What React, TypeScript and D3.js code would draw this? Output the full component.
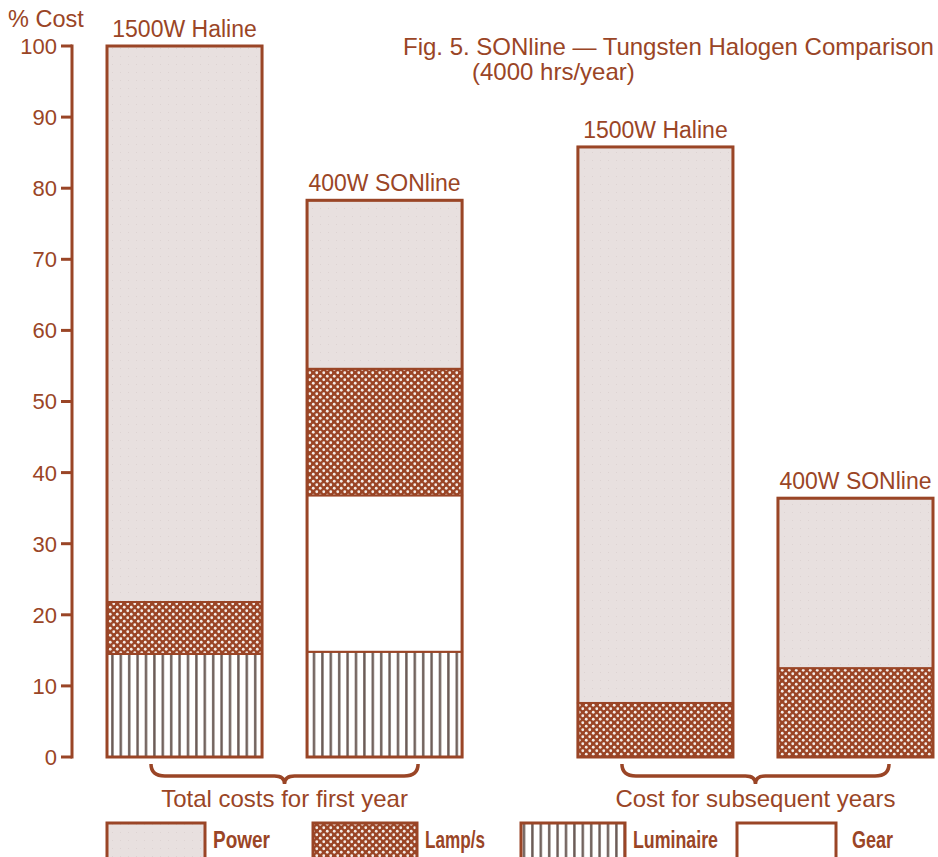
import React from 'react';
import * as d3 from 'd3';

// bars, left to right
const barLabels = ["1500W Haline", "400W SONline", "1500W Haline", "400W SONline"];
const barGroup = ["first", "first", "subsequent", "subsequent"];
const groupLabels = ["Total costs for first year", "Cost for subsequent years"];

// % cost per component (stacked bottom to top)
const luminaire = [14.5, 14.8, 0, 0];
const gear = [0, 22.0, 0, 0];
const lamps = [7.3, 17.8, 7.6, 12.5];
const power = [78.2, 23.7, 78.2, 23.9];

const yTicks = [0, 10, 20, 30, 40, 50, 60, 70, 80, 90, 100];
const legendLabels = ["Power", "Lamp/s", "Luminaire", "Gear"];

const W = 938;
const H = 857;
const BROWN = "#9a4526";
const FONT = "'Liberation Sans', Arial, Helvetica, sans-serif";

const keys = ["luminaire", "gear", "lamps", "power"] as const;
const fills: Record<string, string> = {
  luminaire: "url(#lumi)",
  gear: "#ffffff",
  lamps: "url(#lamps)",
  power: "url(#power)",
};

export default function App() {
  const rows = barLabels.map((label, i) => ({
    idx: i,
    label,
    group: barGroup[i],
    luminaire: luminaire[i],
    gear: gear[i],
    lamps: lamps[i],
    power: power[i],
  }));

  const y = d3.scaleLinear().domain([0, 100]).range([757, 46]);
  const xGroup = d3.scaleBand<string>()
    .domain(["first", "subsequent"])
    .range([107, 933])
    .paddingInner(0.246);
  const xInner = d3.scaleBand<number>()
    .domain([0, 1])
    .range([0, xGroup.bandwidth()])
    .paddingInner(0.225);

  const barX = (i: number) => xGroup(barGroup[i])! + xInner(i % 2)!;
  const bw = xInner.bandwidth();

  const series = d3.stack<any>().keys(keys as any)(rows);
  const totals = rows.map(r => r.luminaire + r.gear + r.lamps + r.power);

  // curly brace under each group
  const brace = (x0: number, x1: number, yt: number) => {
    const cx = (x0 + x1) / 2;
    const yb = yt + 12;
    const p = d3.path();
    p.moveTo(x0, yt);
    p.quadraticCurveTo(x0, yb, x0 + 14, yb);
    p.lineTo(cx - 10, yb);
    p.quadraticCurveTo(cx, yb, cx, yb + 8);
    p.quadraticCurveTo(cx, yb, cx + 10, yb);
    p.lineTo(x1 - 14, yb);
    p.quadraticCurveTo(x1, yb, x1, yt);
    return p.toString();
  };

  const legendX = [107, 313, 521, 737];
  const legendW = [98, 104, 104, 99];
  const legendTextX = [213, 425, 633, 852];
  const legendTextW = [57, 60, 85, 41];
  const legendFill = ["url(#power)", "url(#lamps)", "url(#lumi)", "#ffffff"];

  return (
    <svg width={W} height={H} style={{ position: 'absolute', left: 0, top: 0, background: '#fff' }}>
      <defs>
        <pattern id="power" width="8" height="8" patternUnits="userSpaceOnUse">
          <rect width="8" height="8" fill="#e8e0df" />
          <rect x="0" y="0" width="1" height="1" fill="#ddd3d2" />
        </pattern>
        <pattern id="lamps" width="7" height="7" patternUnits="userSpaceOnUse">
          <rect width="7" height="7" fill={BROWN} />
          <circle cx="1.75" cy="1.75" r="1.4" fill="#f4ece8" />
          <circle cx="5.25" cy="5.25" r="1.4" fill="#f4ece8" />
        </pattern>
        <pattern id="lumi" width="8.4" height="10" patternUnits="userSpaceOnUse">
          <rect width="8.4" height="10" fill="#ffffff" />
          <rect x="2" y="0" width="2.4" height="10" fill="#6a5a55" />
        </pattern>
      </defs>

      {/* y axis */}
      <text x={8} y={27} fontFamily={FONT} fontSize={23.5} fill={BROWN}>% Cost</text>
      <line x1={72} x2={72} y1={y(100) - 1.5} y2={y(0) + 1.5} stroke={BROWN} strokeWidth={3} />
      {yTicks.map(t => (
        <g key={t}>
          <line x1={61} x2={72} y1={y(t)} y2={y(t)} stroke={BROWN} strokeWidth={3} />
          <text x={57} y={y(t)} dy="0.36em" textAnchor="end" fontFamily={FONT} fontSize={22} fill={BROWN}>{t}</text>
        </g>
      ))}

      {/* stacked bars */}
      {series.map(s => (
        <g key={s.key}>
          {s.map((d, i) => d[1] - d[0] > 0 ? (
            <rect key={i} x={barX(i)} width={bw} y={y(d[1])} height={y(d[0]) - y(d[1])}
              fill={fills[s.key]} stroke={BROWN} strokeWidth={2} />
          ) : null)}
        </g>
      ))}
      {rows.map((r, i) => (
        <g key={i}>
          <rect x={barX(i)} width={bw} y={y(totals[i])} height={y(0) - y(totals[i])}
            fill="none" stroke={BROWN} strokeWidth={3} />
          <text x={barX(i) + bw / 2} y={y(totals[i]) - 9} textAnchor="middle"
            fontFamily={FONT} fontSize={23} fill={BROWN}>{r.label}</text>
        </g>
      ))}

      {/* group braces and labels */}
      {xGroup.domain().map((g, gi) => {
        const x0 = xGroup(g)! + 44;
        const x1 = xGroup(g)! + xGroup.bandwidth() - 44;
        return (
          <g key={g}>
            <path d={brace(x0, x1, 764)} fill="none" stroke={BROWN} strokeWidth={3.5} />
            <text x={(x0 + x1) / 2} y={807} textAnchor="middle" fontFamily={FONT}
              fontSize={24} fill={BROWN}>{groupLabels[gi]}</text>
          </g>
        );
      })}

      {/* title */}
      <text x={403} y={55} fontFamily={FONT} fontSize={24} fill={BROWN}>
        Fig. 5. SONline — Tungsten Halogen Comparison
      </text>
      <text x={472} y={80} fontFamily={FONT} fontSize={24} fill={BROWN}>(4000 hrs/year)</text>

      {/* legend */}
      {legendLabels.map((l, i) => (
        <g key={l}>
          <rect x={legendX[i]} y={823} width={legendW[i]} height={40} fill={legendFill[i]} stroke={BROWN} strokeWidth={3} />
          <text x={legendTextX[i]} y={848} fontFamily={FONT} fontWeight="bold"
            fontSize={24} textLength={legendTextW[i]} lengthAdjust="spacingAndGlyphs"
            fill={BROWN}>{l}</text>
        </g>
      ))}
    </svg>
  );
}
